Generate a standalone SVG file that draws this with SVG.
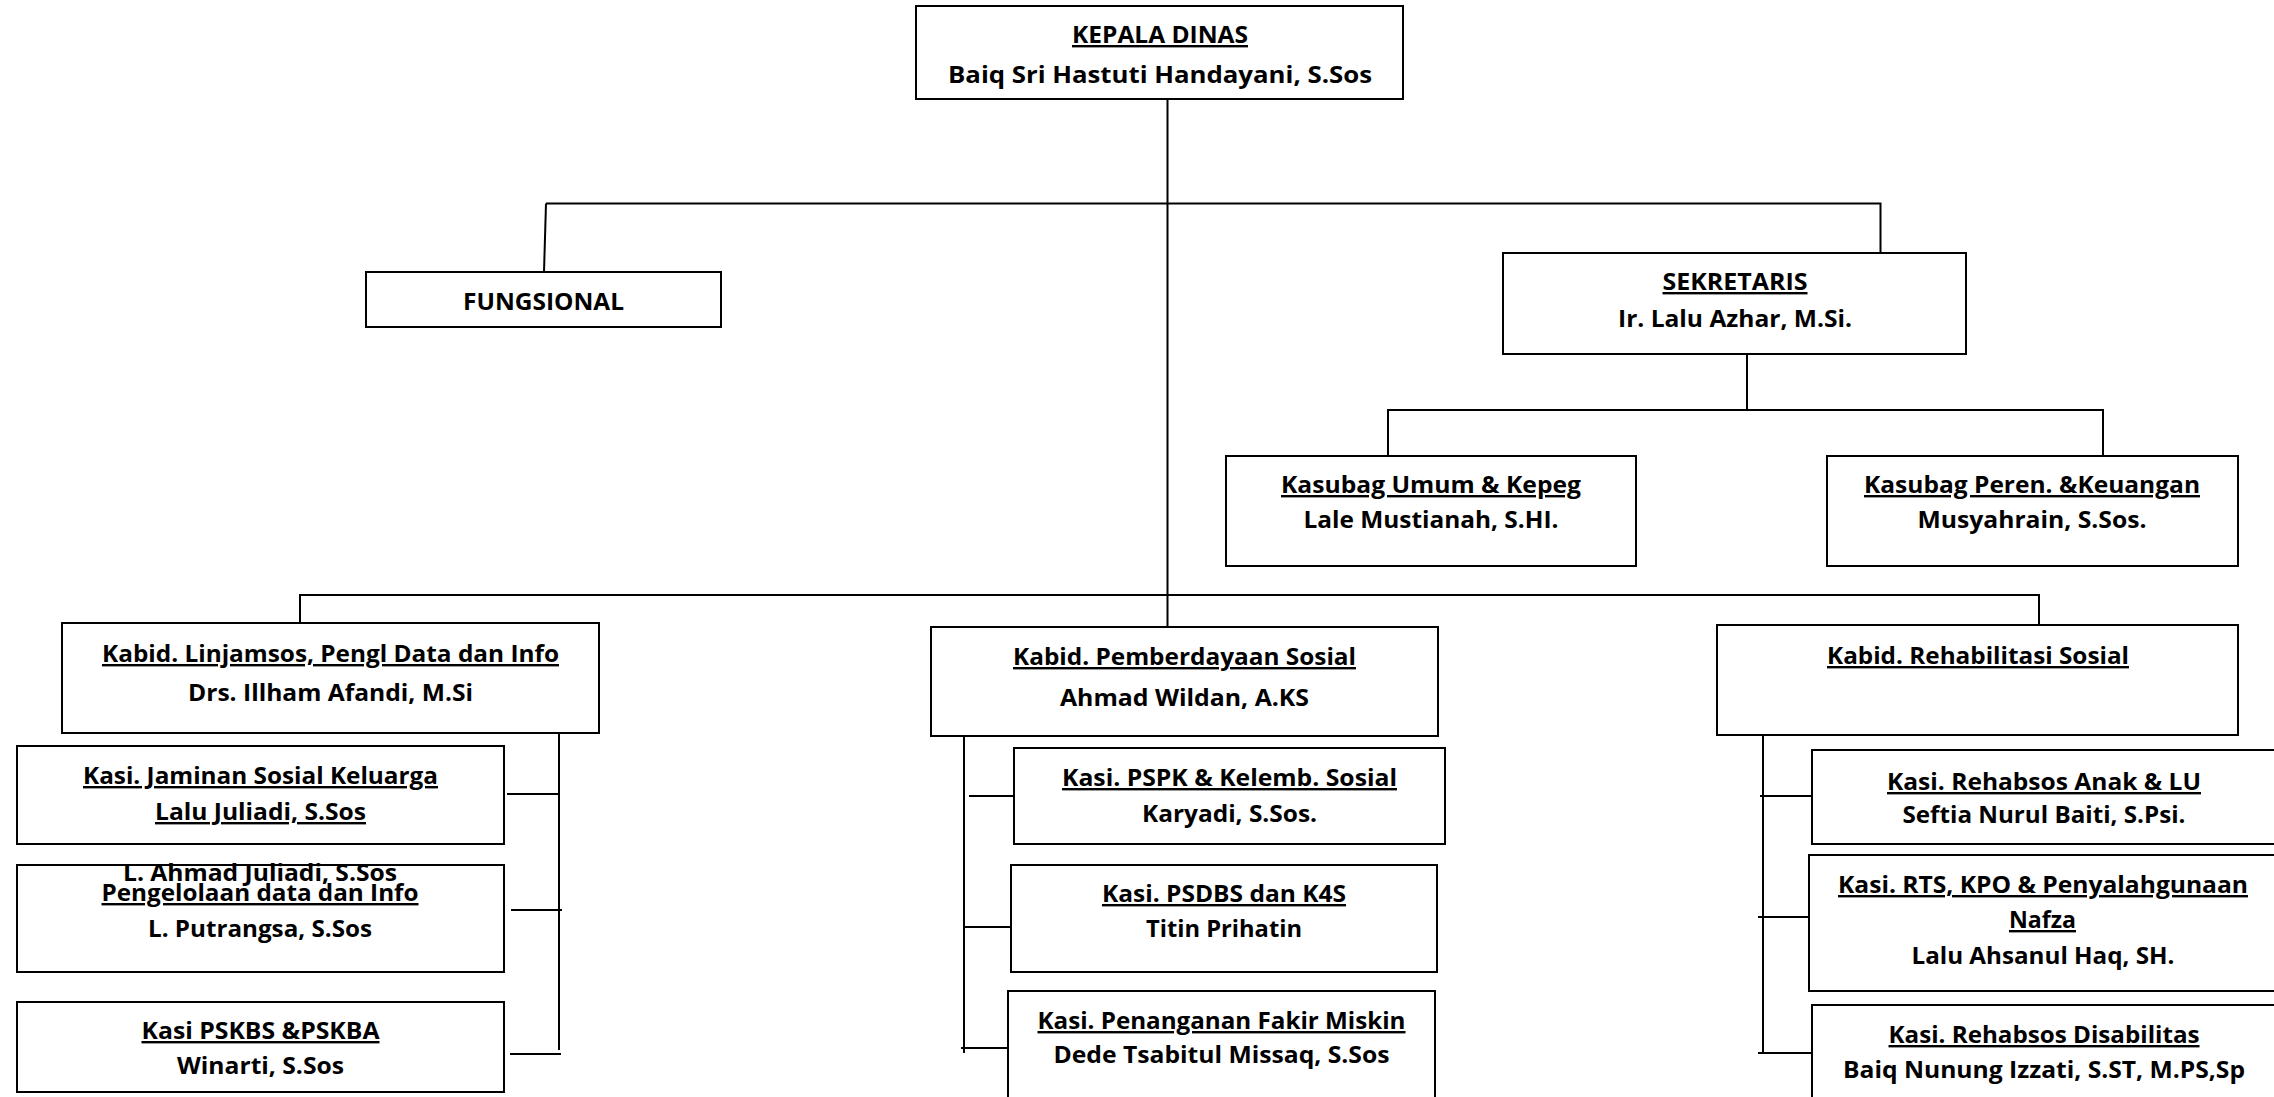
<svg xmlns="http://www.w3.org/2000/svg" width="2274" height="1097" viewBox="0 0 2274 1097">
<style>
.box{fill:#fff;stroke:#000;stroke-width:2}
.c{fill:none;stroke:#000;stroke-width:2}
text{font-family:"Open Sans","Noto Sans","Liberation Sans",sans-serif;font-weight:700;font-size:24px;fill:#000;text-anchor:middle}
.u{text-decoration:underline}
</style>
<rect width="2274" height="1097" fill="#fff"/>
<g id="connectors">
<path class="c" d="M1167.5 100 V627"/>
<path class="c" d="M546 203.5 H1880.5 V253"/>
<path class="c" d="M546 203.5 L544 272"/>
<path class="c" d="M300 623 V595 H2039 V625"/>
<path class="c" d="M1747 354 V410"/>
<path class="c" d="M1388 456 V410 H2103 V456"/>
<path class="c" d="M559 733 V1050"/>
<path class="c" d="M507 794 H559"/>
<path class="c" d="M511 910 H562"/>
<path class="c" d="M510 1054 H561"/>
<path class="c" d="M964 736 V1053"/>
<path class="c" d="M969 796 H1020"/>
<path class="c" d="M964 927 H1016"/>
<path class="c" d="M961 1048 H1011"/>
<path class="c" d="M1763 735 V1053"/>
<path class="c" d="M1760 796 H1812"/>
<path class="c" d="M1758 917 H1809"/>
<path class="c" d="M1758 1053 H1812"/>
</g>
<g id="kepala">
<rect class="box" x="916" y="6" width="487" height="93"/>
<text class="u" x="1160" y="43" textLength="176" lengthAdjust="spacingAndGlyphs">KEPALA DINAS</text>
<text x="1160" y="83" textLength="424" lengthAdjust="spacingAndGlyphs">Baiq Sri Hastuti Handayani, S.Sos</text>
</g>
<g id="fungsional">
<rect class="box" x="366" y="272" width="355" height="55"/>
<text x="543.5" y="310" textLength="161" lengthAdjust="spacingAndGlyphs">FUNGSIONAL</text>
</g>
<g id="sekretaris">
<rect class="box" x="1503" y="253" width="463" height="101"/>
<text class="u" x="1735" y="290" textLength="145" lengthAdjust="spacingAndGlyphs">SEKRETARIS</text>
<text x="1735" y="327" textLength="234" lengthAdjust="spacingAndGlyphs">Ir. Lalu Azhar, M.Si.</text>
</g>
<g id="kasubag-umum">
<rect class="box" x="1226" y="456" width="410" height="110"/>
<text class="u" x="1431" y="493" textLength="300" lengthAdjust="spacingAndGlyphs">Kasubag Umum &amp; Kepeg</text>
<text x="1431" y="528" textLength="255" lengthAdjust="spacingAndGlyphs">Lale Mustianah, S.HI.</text>
</g>
<g id="kasubag-peren">
<rect class="box" x="1827" y="456" width="411" height="110"/>
<text class="u" x="2032" y="493" textLength="336" lengthAdjust="spacingAndGlyphs">Kasubag Peren. &amp;Keuangan</text>
<text x="2032" y="528" textLength="229" lengthAdjust="spacingAndGlyphs">Musyahrain, S.Sos.</text>
</g>
<g id="kabid-linjamsos">
<rect class="box" x="62" y="623" width="537" height="110"/>
<text class="u" x="330.5" y="662" textLength="457" lengthAdjust="spacingAndGlyphs">Kabid. Linjamsos, Pengl Data dan Info</text>
<text x="330.5" y="701" textLength="285" lengthAdjust="spacingAndGlyphs">Drs. Illham Afandi, M.Si</text>
</g>
<g id="kabid-pemberdayaan">
<rect class="box" x="931" y="627" width="507" height="109"/>
<text class="u" x="1184.5" y="665" textLength="343" lengthAdjust="spacingAndGlyphs">Kabid. Pemberdayaan Sosial</text>
<text x="1184.5" y="706" textLength="249" lengthAdjust="spacingAndGlyphs">Ahmad Wildan, A.KS</text>
</g>
<g id="kabid-rehabilitasi">
<rect class="box" x="1717" y="625" width="521" height="110"/>
<text class="u" x="1978" y="664" textLength="302" lengthAdjust="spacingAndGlyphs">Kabid. Rehabilitasi Sosial</text>
</g>
<g id="kasi-jaminan">
<rect class="box" x="17" y="746" width="487" height="98"/>
<text class="u" x="260.5" y="784" textLength="355" lengthAdjust="spacingAndGlyphs">Kasi. Jaminan Sosial Keluarga</text>
<text class="u" x="260.5" y="820" textLength="211" lengthAdjust="spacingAndGlyphs">Lalu Juliadi, S.Sos</text>
</g>
<g id="kasi-pengelolaan">
<rect class="box" x="17" y="865" width="487" height="107"/>
<text x="260" y="881" textLength="274" lengthAdjust="spacingAndGlyphs">L. Ahmad Juliadi, S.Sos</text>
<text class="u" x="260" y="901" textLength="317" lengthAdjust="spacingAndGlyphs">Pengelolaan data dan Info</text>
<text x="260" y="937" textLength="224" lengthAdjust="spacingAndGlyphs">L. Putrangsa, S.Sos</text>
</g>
<g id="kasi-pskbs">
<rect class="box" x="17" y="1002" width="487" height="90"/>
<text class="u" x="260.5" y="1039" textLength="238" lengthAdjust="spacingAndGlyphs">Kasi PSKBS &amp;PSKBA</text>
<text x="260.5" y="1074" textLength="167" lengthAdjust="spacingAndGlyphs">Winarti, S.Sos</text>
</g>
<g id="kasi-pspk">
<rect class="box" x="1014" y="748" width="431" height="96"/>
<text class="u" x="1229.5" y="786" textLength="335" lengthAdjust="spacingAndGlyphs">Kasi. PSPK &amp; Kelemb. Sosial</text>
<text x="1229.5" y="822" textLength="175" lengthAdjust="spacingAndGlyphs">Karyadi, S.Sos.</text>
</g>
<g id="kasi-psdbs">
<rect class="box" x="1011" y="865" width="426" height="107"/>
<text class="u" x="1224" y="902" textLength="244" lengthAdjust="spacingAndGlyphs">Kasi. PSDBS dan K4S</text>
<text x="1224" y="937" textLength="156" lengthAdjust="spacingAndGlyphs">Titin Prihatin</text>
</g>
<g id="kasi-penanganan">
<rect class="box" x="1008" y="991" width="427" height="130"/>
<text class="u" x="1221.5" y="1029" textLength="368" lengthAdjust="spacingAndGlyphs">Kasi. Penanganan Fakir Miskin</text>
<text x="1221.5" y="1063" textLength="336" lengthAdjust="spacingAndGlyphs">Dede Tsabitul Missaq, S.Sos</text>
</g>
<g id="kasi-rehabsos-anak">
<rect class="box" x="1812" y="750" width="466" height="94"/>
<text class="u" x="2044" y="790" textLength="314" lengthAdjust="spacingAndGlyphs">Kasi. Rehabsos Anak &amp; LU</text>
<text x="2044" y="823" textLength="283" lengthAdjust="spacingAndGlyphs">Seftia Nurul Baiti, S.Psi.</text>
</g>
<g id="kasi-rts">
<rect class="box" x="1809" y="855" width="469" height="136"/>
<text class="u" x="2043" y="893" textLength="410" lengthAdjust="spacingAndGlyphs">Kasi. RTS, KPO &amp; Penyalahgunaan</text>
<text class="u" x="2042.5" y="928" textLength="67" lengthAdjust="spacingAndGlyphs">Nafza</text>
<text x="2043" y="964" textLength="263" lengthAdjust="spacingAndGlyphs">Lalu Ahsanul Haq, SH.</text>
</g>
<g id="kasi-disabilitas">
<rect class="box" x="1812" y="1005" width="466" height="120"/>
<text class="u" x="2044" y="1043" textLength="311" lengthAdjust="spacingAndGlyphs">Kasi. Rehabsos Disabilitas</text>
<text x="2044" y="1078" textLength="402" lengthAdjust="spacingAndGlyphs">Baiq Nunung Izzati, S.ST, M.PS,Sp</text>
</g>
</svg>
